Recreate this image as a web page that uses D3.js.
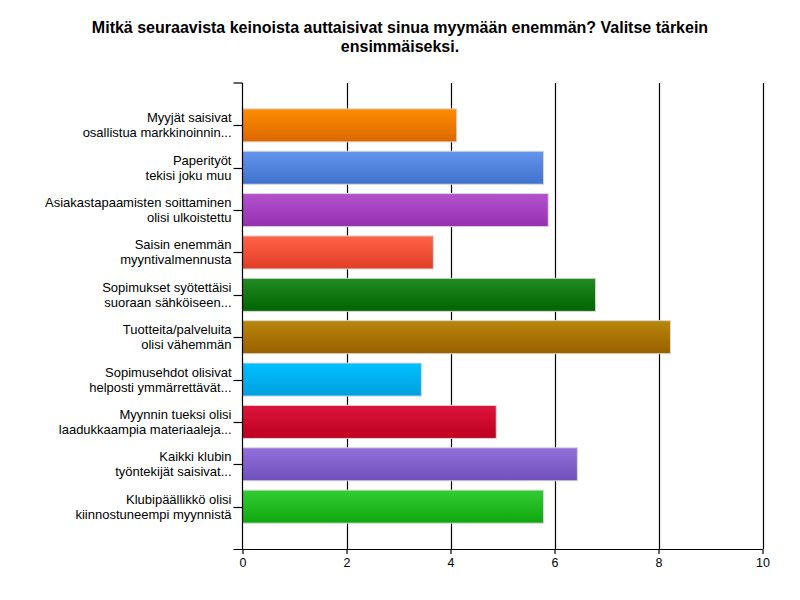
<!DOCTYPE html>
<html>
<head>
<meta charset="utf-8">
<script src="https://cdn.jsdelivr.net/npm/d3@7"></script>
<style>
  body { margin: 0; background: #fff; }
  text { font-family: "Liberation Sans", Arial, sans-serif; }
</style>
</head>
<body>
<svg id="chart" width="800" height="600"></svg>
<script>
const titleLines = ["Mitkä seuraavista keinoista auttaisivat sinua myymään enemmän? Valitse tärkein", "ensimmäiseksi."];

const categories = [
    ["Myyjät saisivat", "osallistua markkinoinnin..."],
    ["Paperityöt", "tekisi joku muu"],
    ["Asiakastapaamisten soittaminen", "olisi ulkoistettu"],
    ["Saisin enemmän", "myyntivalmennusta"],
    ["Sopimukset syötettäisi", "suoraan sähköiseen..."],
    ["Tuotteita/palveluita", "olisi vähemmän"],
    ["Sopimusehdot olisivat", "helposti ymmärrettävät..."],
    ["Myynnin tueksi olisi", "laadukkaampia materiaaleja..."],
    ["Kaikki klubin", "työntekijät saisivat..."],
    ["Klubipäällikkö olisi", "kiinnostuneempi myynnistä"]
];

const values = [4.12, 5.79, 5.88, 3.67, 6.79, 8.23, 3.44, 4.88, 6.44, 5.79];

// top / bottom colour of each bar gradient
const colorsTop = ["#ff8c00", "#6495ed", "#b452cd", "#ff6347", "#228b22", "#b8860b", "#00bfff", "#dc143c", "#9370db", "#32cd32"];
const colorsBottom = ["#db6800", "#3f72cc", "#9530b0", "#e03e26", "#006400", "#9a6000", "#00a0dd", "#bc0020", "#7050bb", "#0ea80e"];

const xTicks = [0, 2, 4, 6, 8, 10];

const svg = d3.select("#chart");
const plotLeft = 242.5, plotRight = 762.5, plotTop = 83, plotBottom = 549;

let x = d3.scaleLinear().domain([0, 10]).range([plotLeft, plotRight]);
let y = d3.scalePoint().domain(d3.range(categories.length)).range([plotTop, plotBottom]).padding(1);
let barH = y.step() * 0.78;

// gradients
let defs = svg.append("defs");
colorsTop.forEach(function (c, i) {
    let g = defs.append("linearGradient")
        .attr("id", "grad" + i)
        .attr("x1", 0).attr("y1", 0).attr("x2", 0).attr("y2", 1);
    g.append("stop").attr("offset", "0%").attr("stop-color", c);
    g.append("stop").attr("offset", "100%").attr("stop-color", colorsBottom[i]);
});

// title
svg.append("text")
    .attr("x", 400).attr("y", 33)
    .attr("text-anchor", "middle")
    .style("font-size", "16px").style("font-weight", "bold")
    .selectAll("tspan")
    .data(titleLines)
    .enter().append("tspan")
    .attr("x", 400)
    .attr("dy", (d, i) => i === 0 ? 0 : 19)
    .text(d => d);

// gridlines
svg.append("g").selectAll("line")
    .data(xTicks.slice(1))
    .enter().append("line")
    .attr("x1", d => Math.round(x(d)) + 0.5).attr("x2", d => Math.round(x(d)) + 0.5)
    .attr("y1", plotTop).attr("y2", plotBottom)
    .attr("stroke", "#000").attr("stroke-width", 1.2);

// bars
svg.append("g").selectAll("rect")
    .data(values)
    .enter().append("rect")
    .attr("x", x(0))
    .attr("y", (d, i) => y(i) - barH / 2)
    .attr("width", d => x(d) - x(0))
    .attr("height", barH)
    .attr("fill", (d, i) => "url(#grad" + i + ")")
    .attr("stroke", "#d8d8d8")
    .attr("stroke-width", 1);

// x axis
let xAxis = d3.axisBottom(x).tickValues(xTicks).tickSize(5).tickPadding(4);
let gx = svg.append("g")
    .attr("transform", "translate(0," + plotBottom + ")")
    .call(xAxis);
gx.select(".domain").remove();
gx.append("line").attr("x1", plotLeft - 9).attr("x2", plotRight).attr("y1", 0.5).attr("y2", 0.5)
    .attr("stroke", "#000").attr("stroke-width", 1.2);
gx.selectAll(".tick line").attr("stroke", "#000").attr("stroke-width", 1.2);
gx.selectAll(".tick text").style("font-size", "12.5px").attr("fill", "#000")
    .style("font-family", "'Liberation Sans', Arial, sans-serif");

// y axis
let gy = svg.append("g");
gy.append("line").attr("x1", plotLeft).attr("x2", plotLeft).attr("y1", plotTop).attr("y2", plotBottom)
    .attr("stroke", "#000").attr("stroke-width", 1.2);
gy.append("line").attr("x1", plotLeft - 9).attr("x2", plotLeft).attr("y1", plotTop).attr("y2", plotTop)
    .attr("stroke", "#000").attr("stroke-width", 1.2);
gy.selectAll(".ytick")
    .data(categories)
    .enter().append("line")
    .attr("class", "ytick")
    .attr("x1", plotLeft - 9).attr("x2", plotLeft)
    .attr("y1", (d, i) => Math.round(y(i)) + 0.5).attr("y2", (d, i) => Math.round(y(i)) + 0.5)
    .attr("stroke", "#000").attr("stroke-width", 1.2);

let labels = gy.selectAll(".ylabel")
    .data(categories)
    .enter().append("text")
    .attr("class", "ylabel")
    .attr("text-anchor", "end")
    .attr("y", (d, i) => y(i))
    .style("font-size", "13px");
labels.selectAll("tspan")
    .data(d => d)
    .enter().append("tspan")
    .attr("x", plotLeft - 11)
    .attr("dy", (d, i) => i === 0 ? -3 : 15)
    .text(d => d);
</script>
</body>
</html>
